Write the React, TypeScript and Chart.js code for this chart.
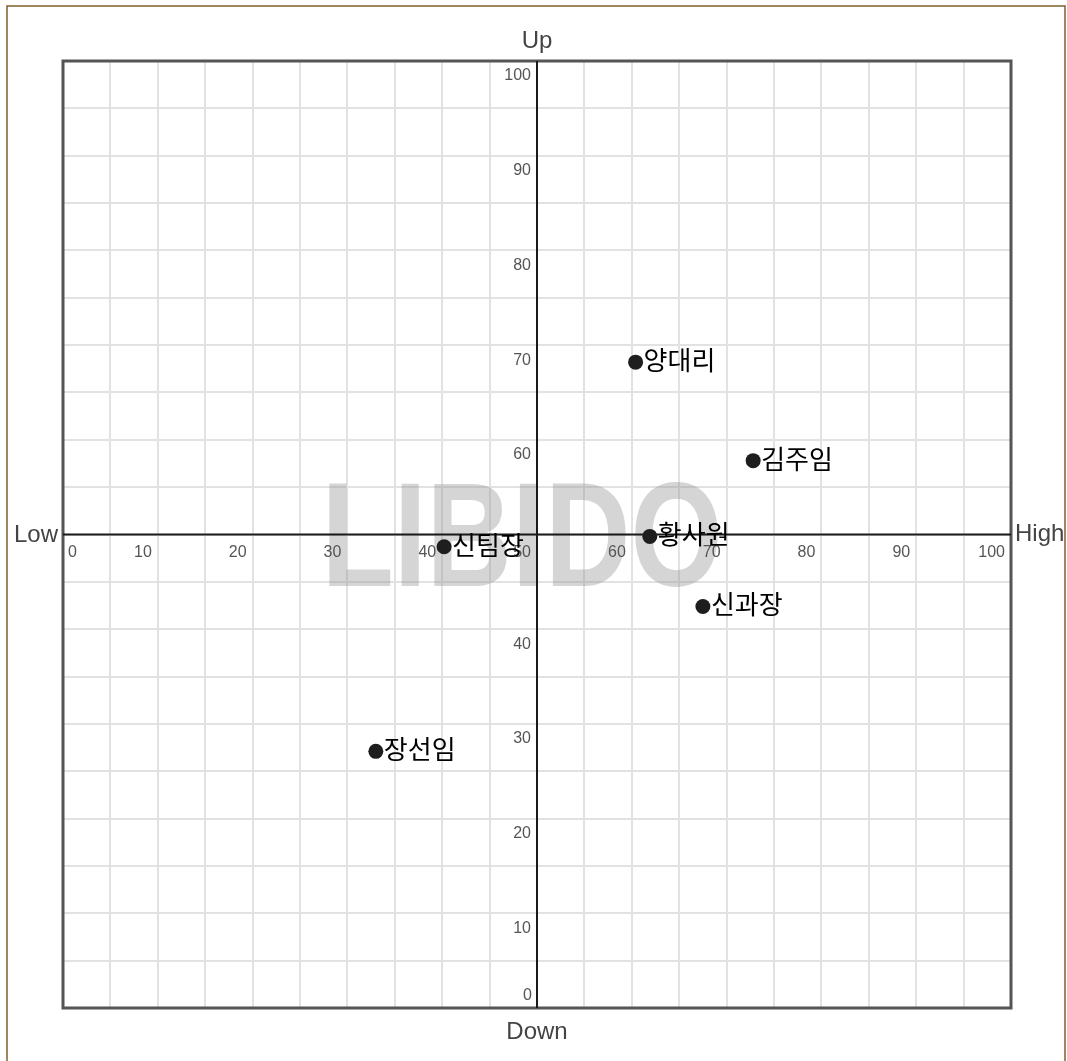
import React, { useEffect, useRef } from "react";
import { Chart, registerables } from "chart.js";

Chart.register(...registerables);

const names = ["양대리", "김주임", "황사원", "신팀장", "신과장", "장선임"];
const xValues = [60.4, 72.8, 61.9, 40.2, 67.5, 33.0];
const yValues = [68.2, 57.8, 49.8, 48.7, 42.4, 27.1];
const tickValues = [0, 10, 20, 30, 40, 50, 60, 70, 80, 90, 100];
const axisNames = { up: "Up", down: "Down", low: "Low", high: "High" };
const watermark = "LIBIDO";

const W = 1067;
const H = 1061;

const decorPlugin = {
  id: "decor",
  beforeDraw(chart: any) {
    const ctx = chart.ctx;
    ctx.save();
    ctx.fillStyle = "#ffffff";
    ctx.fillRect(0, 0, W, H);
    ctx.strokeStyle = "#7f5f30";
    ctx.lineWidth = 1.5;
    ctx.strokeRect(7, 6, 1058, 1070);
    ctx.restore();
  },
  beforeDatasetsDraw(chart: any) {
    const ctx = chart.ctx;
    const { left, right, top, bottom } = chart.chartArea;
    const xs = chart.scales.x;
    const ys = chart.scales.y;
    const cx = xs.getPixelForValue(50);
    const cy = ys.getPixelForValue(50);
    ctx.save();
    // watermark
    ctx.save();
    ctx.translate(522, 545);
    ctx.scale(0.8, 1);
    ctx.font = "bold 148px 'Liberation Sans', Arial, sans-serif";
    ctx.fillStyle = "rgba(150,150,150,0.40)";
    ctx.textAlign = "center";
    ctx.textBaseline = "middle";
    ctx.fillText(watermark, 0, 0);
    ctx.restore();

    // frame
    ctx.strokeStyle = "#555555";
    ctx.lineWidth = 3;
    ctx.strokeRect(left, top, right - left, bottom - top);

    // center axes
    ctx.strokeStyle = "#1a1a1a";
    ctx.lineWidth = 2;
    ctx.beginPath();
    ctx.moveTo(left, cy);
    ctx.lineTo(right, cy);
    ctx.moveTo(cx, top);
    ctx.lineTo(cx, bottom);
    ctx.stroke();

    // tick labels
    ctx.font = "16px 'Liberation Sans', Arial, sans-serif";
    ctx.fillStyle = "#555555";
    tickValues.forEach((v) => {
      const px = xs.getPixelForValue(v);
      ctx.textBaseline = "top";
      if (v === 0) {
        ctx.textAlign = "left";
        ctx.fillText(String(v), px + 5, cy + 10);
      } else {
        ctx.textAlign = "right";
        ctx.fillText(String(v), px - 6, cy + 10);
      }
    });
    tickValues.forEach((v) => {
      if (v === 50) return;
      const py = ys.getPixelForValue(v);
      ctx.textAlign = "right";
      if (v === 0) {
        ctx.textBaseline = "bottom";
        ctx.fillText(String(v), cx - 5, py - 4);
      } else {
        ctx.textBaseline = "top";
        ctx.fillText(String(v), cx - 6, py + 7);
      }
    });

    // axis names
    ctx.font = "24px 'Liberation Sans', Arial, sans-serif";
    ctx.fillStyle = "#444444";
    ctx.textBaseline = "middle";
    ctx.textAlign = "center";
    ctx.fillText(axisNames.up, cx, 41);
    ctx.fillText(axisNames.down, cx, 1032);
    ctx.textAlign = "right";
    ctx.fillText(axisNames.low, left - 5, cy + 1);
    ctx.textAlign = "left";
    ctx.fillText(axisNames.high, right + 4, cy);
    ctx.restore();
  },
  afterDatasetsDraw(chart: any) {
    const ctx = chart.ctx;
    const meta = chart.getDatasetMeta(0);
    ctx.save();
    ctx.font = "26px 'Noto Sans CJK KR', sans-serif";
    ctx.fillStyle = "#000000";
    ctx.textAlign = "left";
    ctx.textBaseline = "middle";
    meta.data.forEach((pt: any, i: number) => {
      ctx.fillText(names[i], pt.x + 8, pt.y - 2);
    });
    ctx.restore();
  },
};

export default function App() {
  const ref = useRef<HTMLCanvasElement | null>(null);
  useEffect(() => {
    if (!ref.current) return;
    const chart = new Chart(ref.current, {
      type: "scatter",
      data: {
        datasets: [
          {
            label: "people",
            data: xValues.map((x, i) => ({ x, y: yValues[i] })),
            pointRadius: 7.5,
            pointHoverRadius: 7.5,
            backgroundColor: "#1e1e1e",
            borderColor: "#1e1e1e",
            borderWidth: 0,
          },
        ],
      },
      options: {
        responsive: false,
        animation: false,
        events: [],
        layout: { padding: { left: 63, right: 56, top: 61, bottom: 53 } },
        plugins: { legend: { display: false }, tooltip: { enabled: false } },
        scales: {
          x: {
            type: "linear",
            min: 0,
            max: 100,
            ticks: { display: false, stepSize: 5 },
            grid: { color: "#e2e2e2", lineWidth: 2, drawTicks: false },
            border: { display: false },
            afterFit: (s: any) => {
              s.height = 0;
            },
          },
          y: {
            type: "linear",
            min: 0,
            max: 100,
            ticks: { display: false, stepSize: 5 },
            grid: { color: "#e2e2e2", lineWidth: 2, drawTicks: false },
            border: { display: false },
            afterFit: (s: any) => {
              s.width = 0;
            },
          },
        },
      },
      plugins: [decorPlugin],
    });
    return () => chart.destroy();
  }, []);
  return (
    <div style={{ position: "absolute", left: 0, top: 0, width: W, height: H }}>
      <canvas ref={ref} width={W} height={H} style={{ display: "block" }} />
    </div>
  );
}
